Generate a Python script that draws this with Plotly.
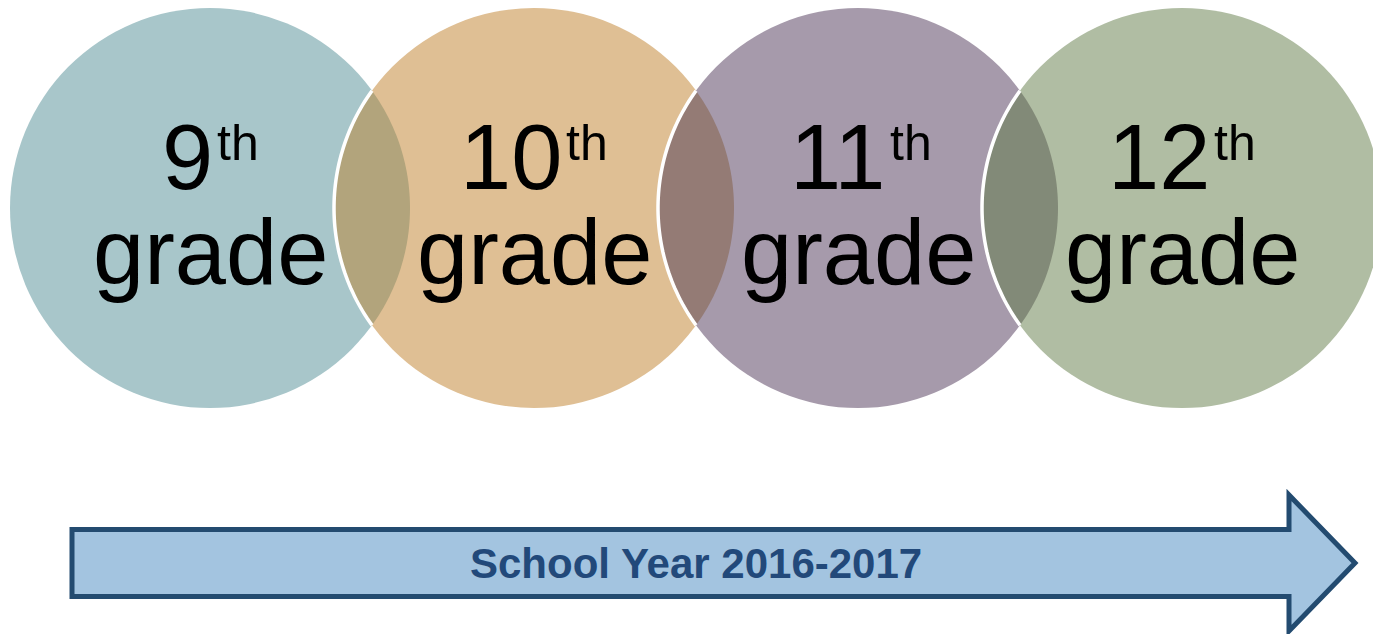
import numpy as np
import plotly.graph_objects as go

# ---- data ----
grade_numbers = ["9", "10", "11", "12"]
grade_suffix = ["th", "th", "th", "th"]
grade_word = ["grade", "grade", "grade", "grade"]
circle_colors = ["#a8c6ca", "#dfbf94", "#a69aab", "#b0bda3"]
overlap_colors = ["#b2a47c", "#947b75", "#828a78"]
arrow_label = "School Year 2016-2017"

# ---- layout constants (pixel coordinates) ----
W, H = 1373, 634
CX0, DX, CY, R = 210, 324, 208, 200
FONT = "Arial, 'Liberation Sans', Helvetica, sans-serif"
MAIN_SIZE = 92
SUP_SIZE = 50

fig = go.Figure()
fig.add_trace(go.Scatter(x=[0, W], y=[0, H], mode="markers",
                         marker=dict(opacity=0), hoverinfo="skip", showlegend=False))

shapes = []
centers = [CX0 + i * DX for i in range(len(grade_numbers))]

for cx, col in zip(centers, circle_colors):
    shapes.append(dict(type="circle", xref="x", yref="y",
                       x0=cx - R, x1=cx + R, y0=CY - R, y1=CY + R,
                       fillcolor=col, line=dict(width=0), layer="below"))


def arc_points(cx, cy, r, a0, a1, n=60):
    t = np.linspace(a0, a1, n)
    return cx + r * np.cos(t), cy + r * np.sin(t)


for i in range(len(centers) - 1):
    c1, c2 = centers[i], centers[i + 1]
    d = c2 - c1
    half = np.sqrt(R ** 2 - (d / 2) ** 2)
    ang = np.arctan2(half, d / 2)
    x1, y1 = arc_points(c1, CY, R, -ang, ang)
    x2, y2 = arc_points(c2, CY, R, np.pi - ang, np.pi + ang)
    xs = np.concatenate([x1, x2])
    ys = np.concatenate([y1, y2])
    path = "M " + " L ".join(f"{a:.2f},{b:.2f}" for a, b in zip(xs, ys)) + " Z"
    shapes.append(dict(type="path", xref="x", yref="y", path=path,
                       fillcolor=overlap_colors[i], line=dict(width=0), layer="below"))
    wpath = "M " + " L ".join(f"{a:.2f},{b:.2f}" for a, b in zip(x2, y2))
    shapes.append(dict(type="path", xref="x", yref="y", path=wpath,
                       line=dict(color="white", width=3.5), layer="below"))

# arrow
body_top, body_bot = 529.5, 596.5
ax0, neck, tip = 72, 1289, 1355
head_top, head_bot = 495, 631
mid = (body_top + body_bot) / 2
arrow_path = (f"M {ax0},{body_top} L {neck},{body_top} L {neck},{head_top} "
              f"L {tip},{mid} L {neck},{head_bot} L {neck},{body_bot} "
              f"L {ax0},{body_bot} Z")
shapes.append(dict(type="path", xref="x", yref="y", path=arrow_path,
                   fillcolor="#a3c4e0", line=dict(color="#234b70", width=5),
                   layer="below"))

annotations = []
digit_w = 0.556 * MAIN_SIZE
sup_w = 0.834 * SUP_SIZE
num_base, sup_base, word_base = 189, 160, 284
for cx, n, s, g in zip(centers, grade_numbers, grade_suffix, grade_word):
    nw = len(n) * digit_w
    left = cx - (nw + sup_w) / 2
    annotations.append(dict(x=left + nw, y=num_base - 0.347 * MAIN_SIZE, xref="x", yref="y",
                            text=n, showarrow=False, xanchor="right", yanchor="middle",
                            font=dict(family=FONT, size=MAIN_SIZE, color="black")))
    annotations.append(dict(x=left + nw, y=sup_base - 0.347 * SUP_SIZE, xref="x", yref="y",
                            text=s, showarrow=False, xanchor="left", yanchor="middle",
                            font=dict(family=FONT, size=SUP_SIZE, color="black")))
    annotations.append(dict(x=cx, y=word_base - 0.347 * MAIN_SIZE, xref="x", yref="y",
                            text=g, showarrow=False, xanchor="center", yanchor="middle",
                            font=dict(family=FONT, size=MAIN_SIZE, color="black")))

annotations.append(dict(x=696, y=578 - 0.347 * 42, xref="x", yref="y",
                        text=f"<b>{arrow_label}</b>", showarrow=False,
                        xanchor="center", yanchor="middle",
                        font=dict(family=FONT, size=42, color="#22497a")))

fig.update_layout(
    width=W, height=H,
    margin=dict(l=0, r=0, t=0, b=0),
    paper_bgcolor="white", plot_bgcolor="white",
    xaxis=dict(range=[0, W], visible=False, fixedrange=True),
    yaxis=dict(range=[H, 0], visible=False, fixedrange=True),
    shapes=shapes, annotations=annotations, showlegend=False,
)

fig.write_html("out.html", config={"displayModeBar": False},
               post_script="document.body.style.margin='0';document.body.style.overflow='hidden';")
